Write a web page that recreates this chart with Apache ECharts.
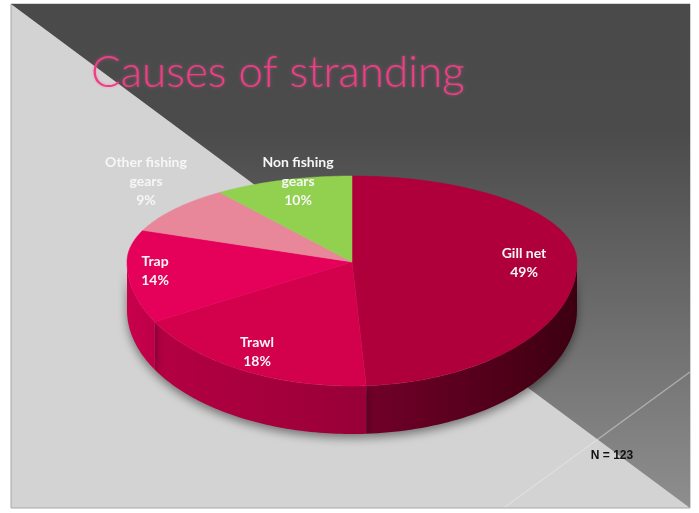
<!DOCTYPE html>
<html>
<head>
<meta charset="utf-8">
<script src="https://cdn.jsdelivr.net/npm/echarts@6/dist/echarts.min.js"></script>
<style>
  html, body { margin: 0; padding: 0; background: #fff; }
  #main { width: 699px; height: 513px; }
</style>
</head>
<body>
<div id="main"></div>
<script>
// data
const categories = ['Gill net', 'Trawl', 'Trap', 'Other fishing gears', 'Non fishing gears'];
const labelNames = ['Gill net', 'Trawl', 'Trap', 'Other fishing\ngears', 'Non fishing\ngears'];
const shares = [49, 18, 14, 9, 10];
const sampleSize = 'N = 123';

// palette
const topColors = ['#b0003b', '#d3004c', '#e5005a', '#e8869a', '#92d050'];
const sideColors = [['#720029', '#3c0011'], ['#b40043', '#980037'], ['#c9004c', '#bd0047'], ['#c06c7e', '#c06c7e'], ['#76ad3e', '#76ad3e']];

const total = shares.reduce((a, b) => a + b, 0);
const starts = [];
shares.reduce((acc, v, i) => { starts[i] = acc / total * Math.PI * 2; return acc + v; }, 0);

// projected pie (top half flatter than bottom half to fake perspective)
const geo = { cx: 352, cy: 262, rx: 225, ryTop: 86, ryBot: 124, depth: 48 };

function pt(a, dy) {
  const c = Math.cos(a);
  return [geo.cx + geo.rx * Math.sin(a), geo.cy - (c > 0 ? geo.ryTop : geo.ryBot) * c + (dy || 0)];
}

function renderTop(params, api) {
  const i = params.dataIndex;
  const a0 = starts[i];
  const a1 = a0 + api.value(0) / total * Math.PI * 2;
  const pts = [[geo.cx, geo.cy]];
  const n = 80;
  for (let k = 0; k <= n; k++) pts.push(pt(a0 + (a1 - a0) * k / n));
  return {
    type: 'polygon',
    shape: { points: pts },
    style: { fill: topColors[i], stroke: topColors[i], lineWidth: 0.5 }
  };
}

function renderSide(params, api) {
  const i = params.dataIndex;
  const s = starts[i];
  const e = s + api.value(0) / total * Math.PI * 2;
  const a0 = Math.max(s, Math.PI / 2);
  const a1 = Math.min(e, Math.PI * 1.5);
  if (a1 <= a0) return;
  const pts = [];
  const n = 60;
  for (let k = 0; k <= n; k++) pts.push(pt(a0 + (a1 - a0) * k / n));
  for (let k = n; k >= 0; k--) pts.push(pt(a0 + (a1 - a0) * k / n, geo.depth));
  return {
    type: 'polygon',
    shape: { points: pts },
    style: {
      fill: new echarts.graphic.LinearGradient(1, 0, 0, 0, [
        { offset: 0, color: sideColors[i][1] },
        { offset: 1, color: sideColors[i][0] }
      ]),
      shadowColor: 'rgba(0,0,0,0.45)',
      shadowBlur: 10,
      shadowOffsetY: 4
    }
  };
}

const chart = echarts.init(document.getElementById('main'));

const labelPos = [[524, 263], [257, 352], [155, 271], [146, 181], [298, 181]];

const labels = labelNames.map((name, i) => ({
  type: 'text',
  x: labelPos[i][0],
  y: labelPos[i][1],
  z: 20,
  style: {
    text: name + '\n' + shares[i] + '%',
    fill: '#f6f6f6',
    font: 'bold 14px Lato',
    lineHeight: 19,
    align: 'center',
    verticalAlign: 'middle'
  }
}));

const option = {
  animation: false,
  title: {
    text: 'Causes of stranding',
    left: 86,
    top: 46,
    textStyle: {
      fontFamily: 'Lato',
      fontWeight: 300,
      fontSize: 44,
      color: '#ec3f86',
      textShadowColor: 'rgba(255,80,150,0.5)',
      textShadowBlur: 3
    }
  },
  graphic: [
    {
      type: 'rect', z: -10,
      shape: { x: 11, y: 4, width: 679, height: 504 },
      style: { fill: '#d3d3d3', stroke: '#a8a8a8', lineWidth: 1 }
    },
    {
      type: 'polygon', z: -9,
      shape: { points: [[11, 4], [690, 4], [690, 508]] },
      style: {
        fill: new echarts.graphic.LinearGradient(0, 0, 0, 1, [
          { offset: 0, color: '#4a4a4a' },
          { offset: 0.25, color: '#4b4b4b' },
          { offset: 1, color: '#8e8e8e' }
        ])
      }
    },
    {
      type: 'line', z: -8,
      shape: { x1: 505, y1: 507, x2: 690, y2: 372 },
      style: { stroke: 'rgba(235,235,235,0.45)', lineWidth: 1.5 }
    },
    {
      type: 'text', z: 20,
      x: 612, y: 456,
      style: {
        text: sampleSize,
        fill: '#111',
        font: 'bold 12px "Liberation Sans"',
        align: 'center',
        verticalAlign: 'middle'
      }
    }
  ].concat(labels),
  series: [
    {
      name: 'side',
      type: 'custom',
      coordinateSystem: 'none',
      z: 3,
      renderItem: renderSide,
      data: shares
    },
    {
      name: 'Causes of stranding',
      type: 'custom',
      coordinateSystem: 'none',
      z: 4,
      renderItem: renderTop,
      data: shares.map((v, i) => ({ name: categories[i], value: v }))
    }
  ]
};

chart.setOption(option);
</script>
</body>
</html>
